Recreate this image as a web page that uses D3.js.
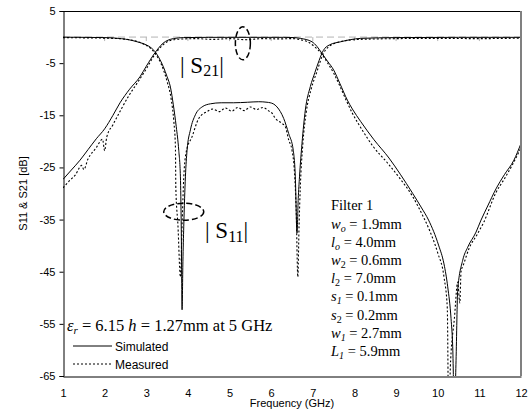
<!DOCTYPE html>
<html>
<head>
<meta charset="utf-8">
<script src="https://cdn.jsdelivr.net/npm/d3@7"></script>
<style>
  body { margin: 0; background: #fff; }
  svg { display: block; }
  .axis text { font-family: Arial, "Liberation Sans", sans-serif; font-size: 11px; fill: #000; }
</style>
</head>
<body>
<div id="chart"></div>
<script>
// ticks
const freqTicks = [1, 2, 3, 4, 5, 6, 7, 8, 9, 10, 11, 12];
const dbTicks = [5, -5, -15, -25, -35, -45, -55, -65];

// [GHz, dB]
const simS21 = [
  [1.0, -27.3], [1.2, -25.5], [1.41, -23.6], [1.6, -21.6], [1.8, -19.5], [2.0, -17.6],
  [2.2, -15.0], [2.37, -12.6], [2.6, -10.0], [2.85, -7.6], [3.0, -5.6], [3.21, -3.0],
  [3.4, -1.2], [3.65, -0.3], [3.9, -0.1], [4.5, -0.05], [5.5, -0.05], [6.3, -0.05],
  [6.55, -0.1], [6.7, -0.25], [6.98, -0.9], [7.1, -1.8], [7.2, -2.9], [7.35, -4.6],
  [7.5, -6.3], [7.65, -8.9], [7.83, -12.1], [7.95, -13.8], [8.15, -16.2], [8.47, -19.7],
  [8.83, -23.2], [9.1, -26.3], [9.4, -30.0], [9.6, -32.6], [9.78, -35.1], [10.02, -39.9],
  [10.15, -43.5], [10.24, -47.9], [10.32, -54], [10.36, -59.4], [10.4, -72], [10.44, -62],
  [10.48, -48.5], [10.6, -42.8], [10.72, -40.3], [10.92, -37.4], [11.04, -35.1],
  [11.2, -32.4], [11.4, -29.1], [11.6, -26.4], [11.83, -23.6], [12.0, -20.4]
];

const measS21 = [
  [1.0, -28.9], [1.15, -27.6], [1.3, -26.4], [1.45, -24.6], [1.5, -25.4], [1.6, -23.4],
  [1.8, -21.2], [1.95, -19.6], [2.0, -21.8], [2.05, -19.2], [2.2, -16.8], [2.4, -13.8],
  [2.6, -11.0], [2.8, -8.6], [3.0, -6.1], [3.2, -3.4], [3.4, -1.5], [3.6, -0.6],
  [3.8, -0.4], [4.2, -0.3], [4.6, -0.45], [5.0, -0.3], [5.4, -0.5], [5.8, -0.3],
  [6.2, -0.35], [6.5, -0.3], [6.7, -0.5], [6.9, -1.0], [7.05, -1.9], [7.2, -3.1],
  [7.35, -4.9], [7.5, -6.9], [7.65, -9.4], [7.8, -12.1], [7.95, -14.6], [8.2, -18.0],
  [8.45, -21.0], [8.8, -24.2], [9.1, -27.2], [9.4, -30.6], [9.6, -33.6], [9.8, -37.0],
  [10.0, -41.4], [10.15, -46.0], [10.23, -52.0], [10.26, -72], [10.31, -62], [10.4, -54],
  [10.48, -47], [10.53, -51], [10.56, -45], [10.62, -43.6], [10.75, -40.6], [10.95, -37.8],
  [11.1, -35.6], [11.4, -29.8], [11.6, -27.2], [11.8, -24.4], [12.0, -21.2]
];

const simS11 = [
  [1.0, -0.02], [1.5, -0.05], [2.0, -0.1], [2.4, -0.3], [2.61, -0.56], [2.8, -0.95],
  [3.0, -1.5], [3.09, -1.9], [3.21, -2.8], [3.3, -3.9], [3.41, -5.7], [3.5, -7.6],
  [3.58, -9.6], [3.65, -13.0], [3.72, -17.2], [3.78, -21.7], [3.82, -26.8], [3.84, -36.4],
  [3.86, -52.3], [3.88, -43], [3.9, -36.4], [3.94, -26.8], [3.98, -21.7], [4.06, -17.8],
  [4.18, -14.9], [4.34, -13.4], [4.54, -12.8], [4.8, -12.6], [5.1, -12.6], [5.43, -12.5],
  [5.7, -12.4], [5.9, -12.5], [6.05, -12.8], [6.14, -13.4], [6.3, -15.6], [6.42, -18.5],
  [6.53, -21.7], [6.58, -26.8], [6.62, -37.6], [6.65, -31], [6.68, -26.8], [6.74, -20.4],
  [6.82, -14.0], [6.94, -9.5], [7.05, -6.8], [7.15, -4.5], [7.25, -2.6], [7.4, -1.5],
  [7.67, -0.9], [8.15, -0.25], [9.0, -0.1], [10.5, -0.05], [12.0, -0.05]
];

const measS11 = [
  [1.0, -0.1], [1.5, -0.15], [2.0, -0.2], [2.5, -0.4], [2.8, -0.9], [3.0, -1.6],
  [3.2, -3.0], [3.4, -6.0], [3.5, -8.5], [3.6, -12.0], [3.66, -16.0], [3.7, -21.0],
  [3.71, -29.0], [3.76, -36.0], [3.82, -46.0], [3.86, -36.0], [3.9, -27.0], [3.96, -22.0],
  [4.1, -19.1], [4.26, -15.6], [4.46, -14.3], [4.6, -13.8], [4.75, -14.3], [4.9, -13.6],
  [5.05, -14.2], [5.2, -13.5], [5.35, -14.1], [5.5, -13.4], [5.65, -13.9], [5.8, -13.5],
  [5.95, -14.2], [6.02, -14.6], [6.1, -15.6], [6.25, -16.5], [6.34, -17.2], [6.42, -19.7],
  [6.5, -21.7], [6.56, -26.0], [6.6, -33.0], [6.64, -46.0], [6.67, -36.0], [6.7, -28.7],
  [6.76, -20.5], [6.84, -14.5], [6.96, -10.0], [7.1, -6.6], [7.25, -3.2], [7.5, -1.3],
  [8.0, -0.5], [9.0, -0.3], [10.0, -0.25], [11.0, -0.3], [12.0, -0.2]
];

const legendLabels = ['Simulated', 'Measured'];

const filterTitle = 'Filter 1';
const filterParams = [
  {sym: 'w', sub: 'o', val: '1.9mm'},
  {sym: 'l', sub: 'o', val: '4.0mm'},
  {sym: 'w', sub: '2', val: '0.6mm'},
  {sym: 'l', sub: '2', val: '7.0mm'},
  {sym: 's', sub: '1', val: '0.1mm'},
  {sym: 's', sub: '2', val: '0.2mm'},
  {sym: 'w', sub: '1', val: '2.7mm'},
  {sym: 'L', sub: '1', val: '5.9mm'}
];

const width = 529, height = 413;
const pLeft = 63, pRight = 521, pTop = 11, pBottom = 376;
const serif = '"Liberation Serif", "Times New Roman", serif';
const sans = 'Arial, "Liberation Sans", sans-serif';

const x = d3.scaleLinear().domain([1, 12]).range([pLeft, pRight]);
const y = d3.scaleLinear().domain([5, -65]).range([pTop, pBottom]);

const svg = d3.select('#chart')
  .append('svg')
  .attr('width', width)
  .attr('height', height);

svg.append('clipPath')
  .attr('id', 'plot')
  .append('rect')
  .attr('x', pLeft)
  .attr('y', pTop)
  .attr('width', pRight - pLeft)
  .attr('height', pBottom - pTop);

// 0 dB axis line, grey dashed with little ticks
svg.append('line')
  .attr('x1', x(1)).attr('x2', x(12))
  .attr('y1', y(0)).attr('y2', y(0))
  .attr('stroke', '#b4b4b4')
  .attr('stroke-width', 1)
  .attr('stroke-dasharray', '7,4');

svg.selectAll('.zt')
  .data(freqTicks.slice(1, -1))
  .enter()
  .append('line')
  .attr('class', 'zt')
  .attr('x1', d => x(d)).attr('x2', d => x(d))
  .attr('y1', y(0)).attr('y2', y(0) + 4)
  .attr('stroke', '#b4b4b4');

// curves
const line = d3.line()
  .x(d => x(d[0]))
  .y(d => y(d[1]))
  .curve(d3.curveMonotoneX);

const curves = svg.append('g').attr('clip-path', 'url(#plot)');

[simS21, simS11].forEach(s => {
  curves.append('path')
    .attr('d', line(s))
    .attr('fill', 'none')
    .attr('stroke', '#000')
    .attr('stroke-width', 1);
});

[measS21, measS11].forEach(s => {
  curves.append('path')
    .attr('d', line(s))
    .attr('fill', 'none')
    .attr('stroke', '#000')
    .attr('stroke-width', 1.1)
    .attr('stroke-dasharray', '2,2');
});

// frame
svg.append('line')
  .attr('x1', pLeft).attr('x2', pRight)
  .attr('y1', pTop + 0.5).attr('y2', pTop + 0.5)
  .attr('stroke', '#000');
svg.append('line')
  .attr('x1', pRight).attr('x2', pRight)
  .attr('y1', pTop).attr('y2', pBottom)
  .attr('stroke', '#808080')
  .attr('stroke-width', 2);

// axes
const yAxis = d3.axisLeft(y)
  .tickValues(dbTicks)
  .tickSize(4)
  .tickPadding(4)
  .tickFormat(d => String(d));

svg.append('g')
  .attr('class', 'axis')
  .attr('transform', `translate(${pLeft + 0.5},0)`)
  .call(yAxis)
  .call(g => g.select('.domain').attr('stroke', '#000'));

const xAxis = d3.axisBottom(x)
  .tickValues(freqTicks)
  .tickSize(0)
  .tickPadding(13)
  .tickFormat(d => String(d));

svg.append('g')
  .attr('class', 'axis')
  .attr('transform', `translate(0,${pBottom + 0.5})`)
  .call(xAxis)
  .call(g => g.select('.domain').attr('stroke', '#000'));

svg.append('text')
  .attr('x', (pLeft + pRight) / 2)
  .attr('y', 407)
  .attr('text-anchor', 'middle')
  .style('font-family', sans)
  .style('font-size', '11px')
  .text('Frequency (GHz)');

svg.append('text')
  .attr('transform', `translate(27,${(pTop + pBottom) / 2}) rotate(-90)`)
  .attr('text-anchor', 'middle')
  .style('font-family', sans)
  .style('font-size', '11px')
  .text('S11 & S21 [dB]');

// |S21| and |S11| labels with dashed ellipses
function sLabel(px, py, sub) {
  const t = svg.append('text')
    .attr('x', px).attr('y', py)
    .style('font-family', serif)
    .style('font-size', '23px');
  t.append('tspan').text('| S');
  t.append('tspan').attr('dy', 3.5).style('font-size', '16px').text(sub);
  t.append('tspan').attr('dy', -3.5).text('|');
}
sLabel(180, 72.5, '21');
sLabel(205, 238, '11');

svg.append('ellipse')
  .attr('cx', x(5.32)).attr('cy', y(-1.2))
  .attr('rx', 7.5).attr('ry', 16.5)
  .attr('fill', 'none')
  .attr('stroke', '#000')
  .attr('stroke-width', 1.5)
  .attr('stroke-dasharray', '6,3');

svg.append('ellipse')
  .attr('cx', x(3.9)).attr('cy', y(-33.5))
  .attr('rx', 20).attr('ry', 8.5)
  .attr('fill', 'none')
  .attr('stroke', '#000')
  .attr('stroke-width', 1.5)
  .attr('stroke-dasharray', '6,3');

// substrate note
const subst = svg.append('text')
  .attr('x', 67).attr('y', 330.5)
  .style('font-family', serif)
  .style('font-size', '16.5px');
subst.append('tspan').style('font-style', 'italic').text('ε');
subst.append('tspan').style('font-style', 'italic').style('font-size', '11px').attr('dy', 3).text('r');
subst.append('tspan').attr('dy', -3).text(' = 6.15 ');
subst.append('tspan').style('font-style', 'italic').text('h');
subst.append('tspan').text(' = 1.27mm at 5 GHz');

// legend
legendLabels.forEach((name, i) => {
  const ly = 346 + i * 18;
  svg.append('line')
    .attr('x1', 73).attr('x2', 112)
    .attr('y1', ly).attr('y2', ly)
    .attr('stroke', '#000')
    .attr('stroke-width', 1)
    .attr('stroke-dasharray', i === 0 ? null : '2,2');
  svg.append('text')
    .attr('x', 115).attr('y', ly + 4.5)
    .style('font-family', sans)
    .style('font-size', '12px')
    .text(name);
});

// filter dimensions
svg.append('text')
  .attr('x', 331).attr('y', 210)
  .style('font-family', serif)
  .style('font-size', '14.5px')
  .text(filterTitle);

filterParams.forEach((p, i) => {
  const t = svg.append('text')
    .attr('x', 331).attr('y', 228.5 + i * 18.2)
    .style('font-family', serif)
    .style('font-size', '14.5px');
  t.append('tspan').style('font-style', 'italic').text(p.sym);
  t.append('tspan')
    .attr('dy', 3)
    .style('font-size', '10px')
    .style('font-style', p.sub === '2' ? 'normal' : 'italic')
    .text(p.sub);
  t.append('tspan').attr('dy', -3).text(' = ' + p.val);
});
</script>
</body>
</html>
